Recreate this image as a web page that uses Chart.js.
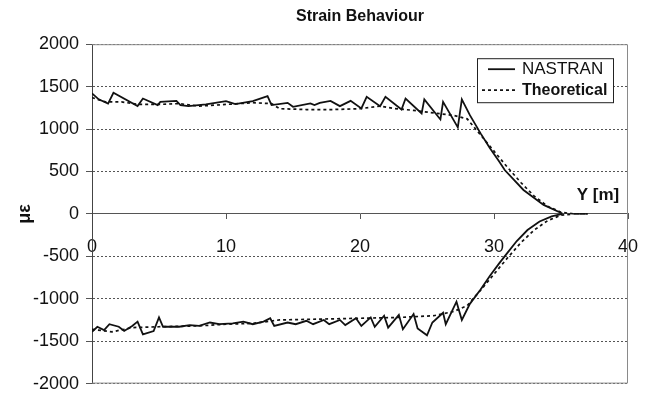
<!DOCTYPE html>
<html>
<head>
<meta charset="utf-8">
<title>Strain Behaviour</title>
<script src="https://cdn.jsdelivr.net/npm/chart.js@4.4.1/dist/chart.umd.min.js"></script>
<style>
    html, body { margin: 0; padding: 0; background: #fff; }
    #wrap { width: 648px; height: 396px; }
</style>
</head>
<body>
<div id="wrap"><canvas id="strainChart" width="648" height="396"></canvas></div>
<script>
// Span position Y [m] against strain (micro-strain), upper and lower flange
const nastranTop = [
    [0, 1420], [0.5, 1350], [1.2, 1300], [1.6, 1427], [3.4, 1270], [3.8, 1360],
    [4.9, 1282], [5.1, 1320], [6.3, 1332], [6.6, 1282], [7.2, 1270], [8.5, 1290],
    [10, 1330], [10.7, 1294], [12, 1330], [13.1, 1388], [13.4, 1282], [14.6, 1309],
    [15, 1262], [16.3, 1302], [16.6, 1282], [17, 1309], [17.8, 1332], [18.5, 1270],
    [19.3, 1332], [20.1, 1243], [20.5, 1380], [21.5, 1270], [21.9, 1380], [23.1, 1231],
    [23.4, 1360], [24.6, 1184], [24.8, 1349], [26, 1113], [26.2, 1320], [27.3, 1020],
    [27.6, 1349], [28.2, 1164], [29, 949], [29.7, 773], [30.4, 615], [30.8, 517],
    [32.2, 282], [33.7, 106], [35.1, 5]
];
const nastranBottom = [
    [0, -1390], [0.4, -1330], [0.9, -1370], [1.3, -1300], [2, -1330], [2.4, -1380],
    [3, -1320], [3.4, -1270], [3.8, -1420], [4.6, -1380], [5, -1220], [5.3, -1330],
    [6.5, -1330], [7.3, -1310], [8, -1320], [8.8, -1280], [9.5, -1300], [10.5, -1290],
    [11.3, -1270], [12, -1300], [12.8, -1270], [13.3, -1230], [13.6, -1320], [14.6, -1280],
    [15.2, -1300], [16, -1260], [16.5, -1300], [17.3, -1250], [17.7, -1300], [18.5, -1250],
    [18.9, -1310], [19.7, -1230], [20.1, -1320], [20.8, -1220], [21.1, -1330], [21.8, -1200],
    [22.1, -1340], [22.9, -1190], [23.2, -1360], [24, -1180], [24.3, -1350], [25, -1430],
    [25.4, -1280], [26.2, -1165], [26.4, -1300], [27.2, -1035], [27.6, -1250], [28.2, -1060],
    [29, -890], [29.7, -730], [30.4, -580], [31, -460], [31.7, -320], [32.5, -190],
    [33.4, -90], [34.3, -30], [35.1, 0]
];
const theoryTop = [
    [0, 1370], [1, 1320], [2.2, 1320], [3.5, 1290], [5, 1290], [6.5, 1300], [8, 1270],
    [10, 1290], [12, 1310], [13.4, 1300], [14, 1240], [16, 1230], [18, 1230], [20, 1240],
    [21.5, 1270], [22.5, 1243], [24, 1220], [25.5, 1190], [27, 1160], [28, 1120],
    [29, 930], [30, 740], [31, 550], [32, 370], [33, 210], [34, 90], [35, 20], [36, 0], [37, 0]
];
const theoryBottom = [
    [0, -1360], [1.5, -1390], [3, -1340], [5, -1330], [8, -1320], [10, -1300], [12, -1290],
    [14, -1250], [17, -1240], [20, -1230], [23, -1220], [25.5, -1200], [27, -1150],
    [28, -1080], [29, -900], [30, -710], [31, -520], [32, -340], [33, -190], [34, -80],
    [35, -15], [36, 0], [37, 0]
];
const xTicks = [0, 10, 20, 30, 40];
const yTicks = [-2000, -1500, -1000, -500, 0, 500, 1000, 1500, 2000];

const FONT = "'Liberation Sans', Arial, sans-serif";

function toPoints(pairs) {
    return pairs.map(p => ({ x: p[0], y: p[1] }));
}

const nastranStyle = { borderColor: '#111', borderWidth: 1.8, borderDash: [] };
const theoryStyle = { borderColor: '#111', borderWidth: 1.7, borderDash: [3, 3] };

// grey frame round the plot, over the dotted grid
const plotFrame = {
    id: 'plotFrame',
    beforeDatasetsDraw(chart) {
        const { ctx, chartArea: a } = chart;
        ctx.save();
        ctx.strokeStyle = '#8a8a8a';
        ctx.lineWidth = 1;
        ctx.beginPath();
        ctx.moveTo(a.left, a.top + 0.5);
        ctx.lineTo(a.right - 0.5, a.top + 0.5);
        ctx.lineTo(a.right - 0.5, a.bottom - 0.5);
        ctx.lineTo(a.left, a.bottom - 0.5);
        ctx.stroke();
        ctx.restore();
    }
};

// boxed legend in the top right corner and the Y [m] axis caption
const boxLegend = {
    id: 'boxLegend',
    afterDraw(chart) {
        const { ctx, chartArea: a, scales } = chart;
        const entries = [
            { label: 'NASTRAN', style: nastranStyle, font: '17px ' + FONT, x0: 11 },
            { label: 'Theoretical', style: theoryStyle, font: 'bold 16px ' + FONT, x0: 5 }
        ];
        const bx = a.right - 151, by = a.top + 14, bw = 136, bh = 44;
        ctx.save();
        ctx.fillStyle = '#fff';
        ctx.fillRect(bx, by, bw, bh);
        ctx.strokeStyle = '#222';
        ctx.lineWidth = 1;
        ctx.strokeRect(bx + 0.5, by + 0.5, bw, bh);
        entries.forEach((e, i) => {
            const ly = by + 11 + i * 21;
            ctx.strokeStyle = e.style.borderColor;
            ctx.lineWidth = e.style.borderWidth;
            ctx.setLineDash(e.style.borderDash);
            ctx.beginPath();
            ctx.moveTo(bx + e.x0, ly);
            ctx.lineTo(bx + 38, ly);
            ctx.stroke();
            ctx.setLineDash([]);
            ctx.fillStyle = '#111';
            ctx.font = e.font;
            ctx.textBaseline = 'middle';
            ctx.textAlign = 'left';
            ctx.fillText(e.label, bx + 45, ly);
        });

        const zeroY = scales.y.getPixelForValue(0);
        ctx.font = 'bold 17px ' + FONT;
        ctx.textAlign = 'center';
        ctx.textBaseline = 'middle';
        ctx.fillText('Y [m]', a.right - 30, zeroY - 19);
        ctx.restore();
    }
};

const ctx = document.getElementById('strainChart').getContext('2d');

new Chart(ctx, {
    type: 'scatter',
    data: {
        datasets: [
            Object.assign({ label: 'NASTRAN', data: toPoints(nastranTop) }, nastranStyle),
            Object.assign({ label: 'NASTRAN', data: toPoints(nastranBottom) }, nastranStyle),
            Object.assign({ label: 'Theoretical', data: toPoints(theoryTop) }, theoryStyle),
            Object.assign({ label: 'Theoretical', data: toPoints(theoryBottom) }, theoryStyle)
        ].map(ds => Object.assign(ds, { showLine: true, pointRadius: 0, tension: 0, fill: false }))
    },
    options: {
        responsive: false,
        animation: false,
        devicePixelRatio: 1,
        layout: { padding: { top: 0, right: 20, bottom: 12, left: 0 } },
        plugins: {
            legend: { display: false },
            tooltip: { enabled: false },
            title: {
                display: true,
                fullSize: false,
                text: 'Strain Behaviour',
                color: '#111',
                font: { family: FONT, size: 16, weight: 'bold' },
                padding: { top: 7, bottom: 18 }
            }
        },
        scales: {
            x: {
                type: 'linear',
                position: { y: 0 },
                min: xTicks[0],
                max: xTicks[xTicks.length - 1],
                afterBuildTicks: scale => { scale.ticks = xTicks.map(v => ({ value: v })); },
                // end labels may overhang the plot, as in the spreadsheet chart
                afterFit: scale => { scale.paddingLeft = 0; scale.paddingRight = 0; },
                ticks: {
                    color: '#111',
                    font: { family: FONT, size: 18 },
                    padding: 17,
                    maxRotation: 0,
                    callback: v => String(v)
                },
                grid: { drawOnChartArea: false, drawTicks: true, tickLength: 5, tickColor: '#555' },
                border: { color: '#555', width: 1 }
            },
            y: {
                type: 'linear',
                min: yTicks[0],
                max: yTicks[yTicks.length - 1],
                afterBuildTicks: scale => { scale.ticks = yTicks.map(v => ({ value: v })); },
                afterFit: scale => { scale.width = 92; },
                ticks: {
                    color: '#111',
                    font: { family: FONT, size: 18, lineHeight: 0.6 },
                    padding: 7,
                    callback: v => String(v)
                },
                title: {
                    display: true,
                    text: 'με',
                    color: '#111',
                    font: { family: FONT, size: 18, weight: 'bold' },
                    padding: { top: 14, bottom: 0 }
                },
                grid: {
                    color: c => (c.tick && c.tick.value === 0 ? 'rgba(0,0,0,0)' : '#555'),
                    lineWidth: 1,
                    tickLength: 6,
                    tickColor: '#555'
                },
                border: { color: '#444', width: 1, dash: [2, 2] }
            }
        }
    },
    plugins: [plotFrame, boxLegend]
});
</script>
</body>
</html>
